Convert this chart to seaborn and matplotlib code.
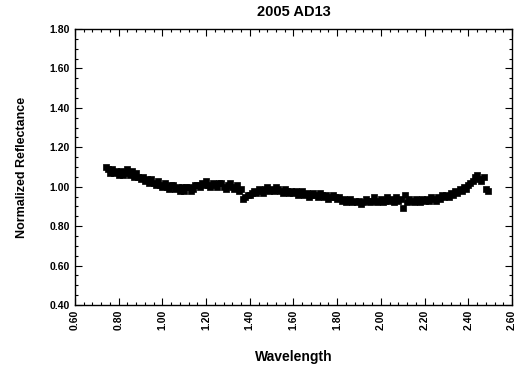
import matplotlib
matplotlib.use("Agg")
import matplotlib.pyplot as plt
from matplotlib.ticker import MultipleLocator, FormatStrFormatter
import seaborn as sns
import pandas as pd

wavelength = [
    0.74, 0.75, 0.76, 0.77, 0.78, 0.79,
    0.80, 0.81, 0.82, 0.83, 0.84, 0.85, 0.86, 0.87, 0.88, 0.89,
    0.90, 0.91, 0.92, 0.93, 0.94, 0.95, 0.96, 0.97, 0.98, 0.99,
    1.00, 1.01, 1.02, 1.03, 1.04, 1.05, 1.06, 1.07, 1.08, 1.09,
    1.10, 1.11, 1.12, 1.13, 1.14, 1.15, 1.16, 1.17, 1.18, 1.19,
    1.20, 1.21, 1.22, 1.23, 1.24, 1.25, 1.26, 1.27, 1.28, 1.29,
    1.30, 1.31, 1.32, 1.33, 1.34, 1.35, 1.36, 1.37, 1.38, 1.39,
    1.40, 1.41, 1.42, 1.43, 1.44, 1.45, 1.46, 1.47, 1.48, 1.49,
    1.50, 1.51, 1.52, 1.53, 1.54, 1.55, 1.56, 1.57, 1.58, 1.59,
    1.60, 1.61, 1.62, 1.63, 1.64, 1.65, 1.66, 1.67, 1.68, 1.69,
    1.70, 1.71, 1.72, 1.73, 1.74, 1.75, 1.76, 1.77, 1.78, 1.79,
    1.80, 1.81, 1.82, 1.83, 1.84, 1.85, 1.86, 1.87, 1.88, 1.89,
    1.90, 1.91, 1.92, 1.93, 1.94, 1.95, 1.96, 1.97, 1.98, 1.99,
    2.00, 2.01, 2.02, 2.03, 2.04, 2.05, 2.06, 2.07, 2.08, 2.09,
    2.10, 2.11, 2.12, 2.13, 2.14, 2.15, 2.16, 2.17, 2.18, 2.19,
    2.20, 2.21, 2.22, 2.23, 2.24, 2.25, 2.26, 2.27, 2.28, 2.29,
    2.30, 2.31, 2.32, 2.33, 2.34, 2.35, 2.36, 2.37, 2.38, 2.39,
    2.40, 2.41, 2.42, 2.43, 2.44, 2.45, 2.46, 2.47, 2.48, 2.49,
]

reflectance = [
    1.10, 1.09, 1.07, 1.09, 1.07, 1.08,
    1.06, 1.08, 1.06, 1.07, 1.09, 1.06, 1.08, 1.05, 1.07, 1.05,
    1.04, 1.05, 1.03, 1.04, 1.02, 1.04, 1.02, 1.01, 1.03, 1.01,
    1.00, 1.02, 1.00, 0.99, 1.01, 1.01, 0.99, 1.00, 0.98, 1.00,
    0.98, 1.00, 1.00, 0.98, 0.99, 1.01, 1.01, 1.00, 1.02, 1.01,
    1.03, 1.01, 1.00, 1.02, 1.01, 1.00, 1.02, 1.02, 1.00, 0.99,
    1.01, 1.02, 1.00, 0.99, 1.01, 0.98, 0.99, 0.94, 0.95, 0.96,
    0.96, 0.97, 0.98, 0.97, 0.99, 0.98, 0.97, 0.99, 1.00, 0.98,
    0.99, 0.98, 1.00, 0.99, 0.98, 0.97, 0.99, 0.98, 0.97, 0.98,
    0.97, 0.98, 0.96, 0.97, 0.98, 0.96, 0.97, 0.95, 0.96, 0.97,
    0.96, 0.95, 0.97, 0.96, 0.95, 0.96, 0.94, 0.95, 0.96, 0.95,
    0.94, 0.95, 0.93, 0.94, 0.92, 0.93, 0.94, 0.92, 0.93, 0.92,
    0.93, 0.91, 0.92, 0.94, 0.93, 0.92, 0.93, 0.95, 0.92, 0.93,
    0.94, 0.92, 0.93, 0.95, 0.93, 0.94, 0.92, 0.95, 0.93, 0.94,
    0.89, 0.96, 0.92, 0.94, 0.93, 0.92, 0.94, 0.93, 0.92, 0.94,
    0.93, 0.94, 0.93, 0.95, 0.94, 0.93, 0.95, 0.94, 0.96, 0.95,
    0.96, 0.95, 0.97, 0.96, 0.98, 0.97, 0.99, 0.98, 1.00, 0.99,
    1.01, 1.02, 1.03, 1.05, 1.06, 1.04, 1.03, 1.05, 0.99, 0.98,
]

title = "2005 AD13"
x_label = "Wavelength"
y_label = "Normalized Reflectance"

sns.set_style("ticks")
plt.rcParams["font.family"] = ["Liberation Sans", "DejaVu Sans"]
plt.rcParams["text.color"] = "black"
plt.rcParams["axes.labelcolor"] = "black"

df = pd.DataFrame({"Wavelength": wavelength, "Reflectance": reflectance})

fig = plt.figure(figsize=(5.2, 3.66), dpi=100)
ax = fig.add_axes([0.1442, 0.1667, 0.8404, 0.7541])

sns.scatterplot(data=df, x="Wavelength", y="Reflectance", ax=ax,
                marker="s", s=16, color="black", edgecolor="black",
                linewidth=0.5, legend=False)

ax.set_xlim(0.6, 2.6)
ax.set_ylim(0.4, 1.8)
ax.xaxis.set_major_locator(MultipleLocator(0.2))
ax.xaxis.set_minor_locator(MultipleLocator(0.04))
ax.yaxis.set_major_locator(MultipleLocator(0.2))
ax.yaxis.set_minor_locator(MultipleLocator(0.05))
ax.xaxis.set_major_formatter(FormatStrFormatter("%.2f"))
ax.yaxis.set_major_formatter(FormatStrFormatter("%.2f"))

ax.tick_params(which="both", direction="in", top=True, right=True,
               colors="black", width=0.8)
ax.tick_params(which="major", length=5, labelsize=7.5)
ax.tick_params(which="minor", length=2.5)
for lab in ax.get_xticklabels():
    lab.set_rotation(90)
    lab.set_fontweight("bold")
for lab in ax.get_yticklabels():
    lab.set_fontweight("bold")

for sp in ax.spines.values():
    sp.set_color("black")
    sp.set_linewidth(1.0)
    sp.set_visible(True)

ax.set_xlabel(x_label, fontsize=10, fontweight="bold", labelpad=14)
ax.set_ylabel(y_label, fontsize=9, fontweight="bold", labelpad=16)
ax.set_title(title, fontsize=10.5, fontweight="bold", pad=9, color="black")

fig.savefig("out.png", dpi=100)
